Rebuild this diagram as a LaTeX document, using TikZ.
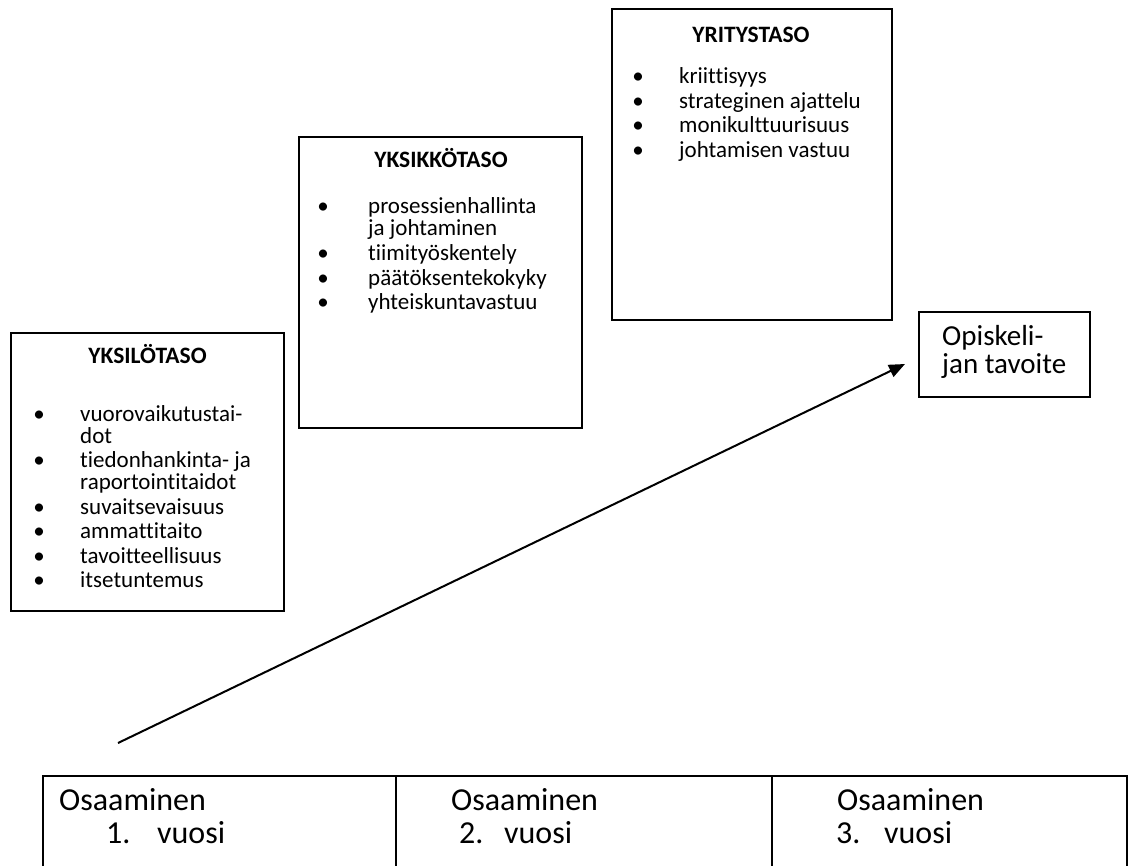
\documentclass[tikz,border=0pt]{standalone}
\usepackage{fontspec}
\setmainfont{Carlito}[RawFeature={-liga}]
\usetikzlibrary{arrows.meta}
\begin{document}
\begin{tikzpicture}[x=1pt,y=-1pt,
  box/.style={draw,line width=1.2pt,inner sep=0pt,minimum width=#1},
  cell/.style={draw,line width=2pt,inner sep=0pt,minimum width=#1,minimum height=100pt},
  txt/.style={inner sep=0pt,anchor=base west,font=\fontsize{23}{24}\selectfont},
  bul/.style={inner sep=0pt,anchor=base,font=\fontsize{23}{24}\selectfont},
  ttl/.style={inner sep=0pt,anchor=base,font=\fontsize{23.5}{24}\selectfont\bfseries},
  goal/.style={inner sep=0pt,anchor=base west,font=\fontsize{29}{30}\selectfont},
  tab/.style={inner sep=0pt,anchor=base west,font=\fontsize{32}{34}\selectfont},
  arr/.style={line width=2pt,-{Triangle[length=16pt,width=13pt]}}
]
\useasboundingbox (0,0) rectangle (1131,865);

% boxes
\node[box=273pt,minimum height=278pt] (b1) at (147.5,472) {};
\node[box=283pt,minimum height=291pt] (b2) at (440.5,282.5) {};
\node[box=280pt,minimum height=311pt] (b3) at (752,164.5) {};
\node[box=171pt,minimum height=85pt] (g) at (1004.5,354.5) {};

% box 1
\node[ttl] (t1) at (147.5,363) {YKSILÖTASO};
\node[bul] (p11) at (39,421) {•};
\node[txt] (l11) at (80,421) {vuorovaikutustai-};
\node[txt] (l12) at (80,443) {dot};
\node[bul] (p12) at (39,467.5) {•};
\node[txt] (l13) at (80,467.5) {tiedonhankinta- ja};
\node[txt] (l14) at (80,489.5) {raportointitaidot};
\node[bul] (p13) at (39,514) {•};
\node[txt] (l15) at (80,514) {suvaitsevaisuus};
\node[bul] (p14) at (39,538.5) {•};
\node[txt] (l16) at (80,538.5) {ammattitaito};
\node[bul] (p15) at (39,563) {•};
\node[txt] (l17) at (80,563) {tavoitteellisuus};
\node[bul] (p16) at (39,587.5) {•};
\node[txt] (l18) at (80,587.5) {itsetuntemus};

% box 2
\node[ttl] (t2) at (441,167) {YKSIKKÖTASO};
\node[bul] (p21) at (323,213) {•};
\node[txt] (l21) at (368,213) {prosessienhallinta};
\node[txt] (l22) at (368,235) {ja johtaminen};
\node[bul] (p22) at (323,260) {•};
\node[txt] (l23) at (368,260) {tiimityöskentely};
\node[bul] (p23) at (323,285) {•};
\node[txt] (l24) at (368,285) {päätöksentekokyky};
\node[bul] (p24) at (323,309.5) {•};
\node[txt] (l25) at (368,309.5) {yhteiskuntavastuu};

% box 3
\node[ttl] (t3) at (751,42) {YRITYSTASO};
\node[bul] (p31) at (638,83.5) {•};
\node[txt] (l31) at (679,83.5) {kriittisyys};
\node[bul] (p32) at (638,108) {•};
\node[txt] (l32) at (679,108) {strateginen ajattelu};
\node[bul] (p33) at (638,132.5) {•};
\node[txt] (l33) at (679,132.5) {monikulttuurisuus};
\node[bul] (p34) at (638,157) {•};
\node[txt] (l34) at (679,157) {johtamisen vastuu};

% goal
\node[goal] (g1) at (942,345) {Opiskeli-};
\node[goal] (g2) at (942,373) {jan tavoite};

% arrow
\coordinate (as) at (118,743);
\coordinate (ae) at (905,364);
\draw[arr] (as) -- (ae);

% table
\node[cell=353pt] (c1) at (219.5,826) {};
\node[cell=376pt] (c2) at (584,826) {};
\node[cell=355pt] (c3) at (949.5,826) {};
\node[tab] (o1) at (59,810) {Osaaminen};
\node[tab] (n1) at (106,843) {1.};
\node[tab] (v1) at (157,843) {vuosi};
\node[tab] (o2) at (451,810) {Osaaminen};
\node[tab] (n2) at (459,843) {2.};
\node[tab] (v2) at (504,843) {vuosi};
\node[tab] (o3) at (837,810) {Osaaminen};
\node[tab] (n3) at (836,843) {3.};
\node[tab] (v3) at (884,843) {vuosi};
\end{tikzpicture}
\end{document}
